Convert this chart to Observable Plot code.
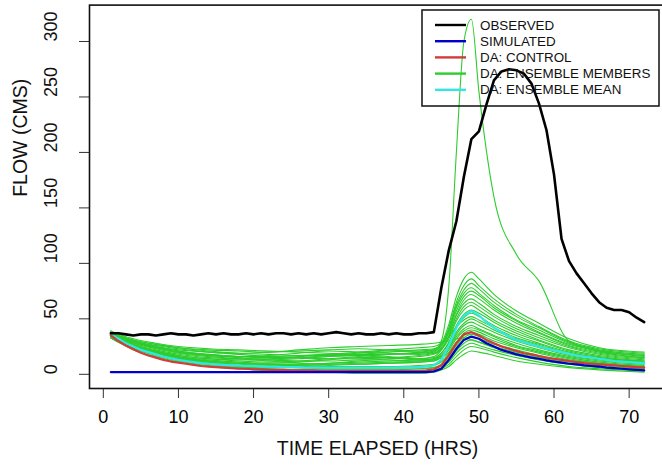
<!DOCTYPE html>
<html>
<head>
<meta charset="utf-8">
<script src="https://cdn.jsdelivr.net/npm/d3@7"></script>
<script src="https://cdn.jsdelivr.net/npm/@observablehq/plot@0.6"></script>
<style>
  html, body { margin: 0; padding: 0; background: #fff; overflow: hidden; }
  #chart { width: 662px; height: 466px; overflow: hidden; }
  #chart svg { display: block; max-width: none !important; }
</style>
</head>
<body>
<div id="chart"></div>
<script>
const hours = [1,2,3,4,5,6,7,8,9,10,11,12,13,14,15,16,17,18,19,20,21,22,23,24,25,26,27,28,29,30,31,32,33,34,35,36,37,38,39,40,41,42,43,44,45,46,47,48,49,50,51,52,53,54,55,56,57,58,59,60,61,62,63,64,65,66,67,68,69,70,71,72];

const observed = [37,37,36,35,36,36,35,36,37,36,36,35,36,37,36,37,36,36,37,36,37,36,37,37,36,37,36,37,36,37,38,37,36,37,36,36,37,36,37,36,36,37,37,38,78,112,138,178,212,219,243,265,273,275,274,271,262,244,220,180,122,102,91,82,73,65,60,58,58,56,51,47];

const simulated = [2,2,2,2,2,2,2,2,2,2,2,2,2,2,2,2,2,2,2,2,2,2,2,2,2,2,2,2,2,2,2,2,2,2,2,2,2,2,2,2,2,2,2,2.5,5,13,23,31,34,32,28,25,22,20,18,16.5,15,14,12.5,11.5,10.5,9.5,9,8,7.5,7,6,5.5,5,4.5,4,3.5];

const control = [35,30,26,22.5,19.5,17,15,13,11.5,10.5,9.5,8.5,7.5,7,6.5,6,5.5,5,5,4.5,4.5,4,4,4,3.5,3.5,3.5,3.5,3,3,3,3,3,3,3,3,3,3,3,3,3,3,3.5,4.5,8,17,28,36,38,35,31,28,25,23,21,19,18,16.5,15,14,13,12,11,10,9.5,9,8.5,8,7.5,7,6.5,6];

const ensembleMean = [36,32,28,25,22,20,18,16,14.5,13,12,11,10,9.5,9,8.5,8,8,7.5,7.5,7,7,7,6.5,6.5,6.5,6,6,6,6,6,6,6,6,6,6,6,6,6,6,6,6.5,7,8,13,26,42,53,57,53,47,42,38,34,31,29,27,25,23,21.5,20,18.5,17,16,15,14,13,12,11.5,11,10.5,10];

const memberHours = [1,2,4,7,10,14,18,22,26,30,34,38,42,44,45,46,47,48,49,50,52,55,58,62,66,72];

const ensembleMembers = [
  [38,35,31,27,24,22,21,20,21,22,23,22,21,22,28,45,70,86,92,86,72,57,46,32,24,20],
  [36,33,28,24,20,17,16,17,19,21,20,19,18,20,26,42,65,80,86,80,68,54,43,30,23,19],
  [39,36,32,28,25,23,22,21,20,19,18,18,19,21,26,40,62,76,82,77,65,52,42,29,22,18],
  [35,31,26,21,17,14,12,11,12,14,16,18,20,22,27,40,60,73,78,73,62,49,40,28,21,17],
  [37,34,30,26,23,20,18,16,15,14,14,15,17,19,24,38,57,70,75,71,60,48,38,27,21,16],
  [34,30,25,20,16,13,11,10,11,13,15,15,14,16,22,35,54,67,72,68,58,46,37,26,20,15],
  [38,35,31,27,24,21,19,18,17,17,18,20,22,23,27,37,53,64,68,64,54,43,35,25,19,15],
  [36,32,27,22,18,15,14,14,15,17,19,21,20,19,23,34,50,61,65,61,52,41,33,24,18,14],
  [33,29,24,19,15,12,10,9,9,10,12,14,16,18,22,32,48,58,62,58,49,39,31,22,17,13],
  [37,34,29,24,20,17,15,13,12,12,13,13,12,14,19,29,44,54,58,55,47,37,30,21,16,12],
  [35,31,26,21,17,14,13,13,14,16,17,16,14,15,19,28,42,51,55,52,44,35,28,20,15,12],
  [39,35,30,25,21,18,16,15,16,18,20,22,24,25,28,34,43,49,52,49,42,33,27,19,15,11],
  [34,30,24,19,14,11,9,8,8,9,10,11,12,13,17,26,38,46,50,47,40,32,26,18,14,11],
  [36,33,28,23,19,16,14,12,10,9,9,10,11,12,16,24,36,44,47,44,38,30,24,17,13,10],
  [38,34,29,24,20,17,16,16,17,18,17,15,13,14,17,24,34,41,44,41,35,28,22,16,12,9],
  [33,29,23,18,13,10,8,7,7,8,9,10,11,12,15,22,32,39,42,40,34,26,21,15,11,8],
  [35,31,25,20,15,12,10,9,8,7,7,7,8,9,12,19,29,37,40,38,32,25,20,14,10,7],
  [37,33,27,21,16,12,10,9,9,10,11,12,13,13,15,20,29,35,38,36,30,24,19,13,10,7],
  [34,30,24,18,13,9,7,6,6,6,6,6,7,8,11,17,26,33,36,34,28,22,17,12,9,6],
  [36,32,26,20,15,11,8,7,6,5,5,5,5,6,9,15,24,31,34,32,27,21,16,11,8,5],
  [33,29,23,17,12,8,6,5,4,4,4,4,5,6,8,13,21,28,31,29,24,19,15,10,7,5],
  [35,31,25,19,14,10,7,5,4,3,3,3,3,4,6,11,19,25,28,26,22,17,13,9,6,4],
  [34,30,24,18,13,9,6,4,3,2,2,2,2,3,5,9,16,22,25,24,20,15,11,7,5,3],
  [33,29,22,16,11,7,5,3,2,2,1,1,1,2,4,7,13,18,21,20,17,12,9,6,4,2],
  [37,34,29,25,22,20,19,20,22,24,25,26,27,28,29,30,32,33,31,29,25,20,16,12,9,7],
  [38,35,30,25,21,18,16,15,15,16,17,18,19,21,30,80,200,300,320,255,160,108,84,30,21,17]
];

const xTicks = [0,10,20,30,40,50,60,70];
const yTicks = [0,50,100,150,200,250,300];

const legendLabels = ["OBSERVED","SIMULATED","DA: CONTROL","DA: ENSEMBLE MEMBERS","DA: ENSEMBLE MEAN"];
const legendColors = ["#000000","#0000c8","#d23c3c","#2ecc2e","#33e6e6"];

const series = (vals) => hours.map((h, i) => ({hour: h, value: vals[i]}));
const memberRows = ensembleMembers.flatMap((m, k) =>
  memberHours.map((h, i) => ({hour: h, value: m[i], member: k})));

const chart = Plot.plot({
  width: 665,
  height: 466,
  marginLeft: 89,
  marginRight: 0,
  marginTop: 4.6,
  marginBottom: 78,
  style: {fontFamily: "'Liberation Sans', Arial, Helvetica, sans-serif", background: "#fff", overflow: "hidden", maxWidth: "none"},
  x: {domain: [-1.84, 74.84]},
  y: {domain: [-12.8, 332.8]},
  marks: [
    Plot.line(memberRows, {x: "hour", y: "value", z: "member", stroke: legendColors[3], strokeWidth: 1.1, curve: "monotone-x"}),
    Plot.line(series(ensembleMean), {x: "hour", y: "value", stroke: legendColors[4], strokeWidth: 2.2}),
    Plot.line(series(control), {x: "hour", y: "value", stroke: legendColors[2], strokeWidth: 2.2}),
    Plot.line(series(simulated), {x: "hour", y: "value", stroke: legendColors[1], strokeWidth: 2.2}),
    Plot.line(series(observed), {x: "hour", y: "value", stroke: legendColors[0], strokeWidth: 2.6}),
    Plot.axisX({ticks: xTicks, tickSize: 10, tickPadding: 12, fontSize: 18, label: null, stroke: "#333"}),
    Plot.axisY({ticks: yTicks, tickSize: 10, tickFormat: () => "", label: null, stroke: "#333"}),
    Plot.text(yTicks, {y: d => d, text: d => String(d), frameAnchor: "left", dx: -38, rotate: -90, fontSize: 18, fill: "#111"}),
    Plot.text(["FLOW (CMS)"], {frameAnchor: "left", dx: -69, rotate: -90, fontSize: 19.5, fill: "#111"}),
    Plot.text(["TIME ELAPSED (HRS)"], {frameAnchor: "bottom", dy: 66, fontSize: 19.5, fill: "#111"}),
    Plot.frame({stroke: "#111", strokeWidth: 1.6})
  ]
});

document.getElementById("chart").appendChild(chart);

// Legend box (top-right, as in the reference)
const svg = d3.select(chart);
const lg = svg.append("g")
  .attr("font-family", "'Liberation Sans', Arial, Helvetica, sans-serif")
  .attr("font-size", 13.4)
  .attr("text-anchor", "start");
lg.append("rect").attr("x", 422).attr("y", 10).attr("width", 237).attr("height", 96)
  .attr("fill", "none").attr("stroke", "#111").attr("stroke-width", 1.5);
legendLabels.forEach((lab, i) => {
  const y = 25 + i * 16.2;
  lg.append("line").attr("x1", 435).attr("x2", 466).attr("y1", y).attr("y2", y)
    .attr("stroke", legendColors[i]).attr("stroke-width", 2.4);
  lg.append("text").attr("x", 480).attr("y", y).attr("dy", "0.35em")
    .attr("text-anchor", "start").attr("fill", "#111").text(lab);
});
</script>
</body>
</html>
